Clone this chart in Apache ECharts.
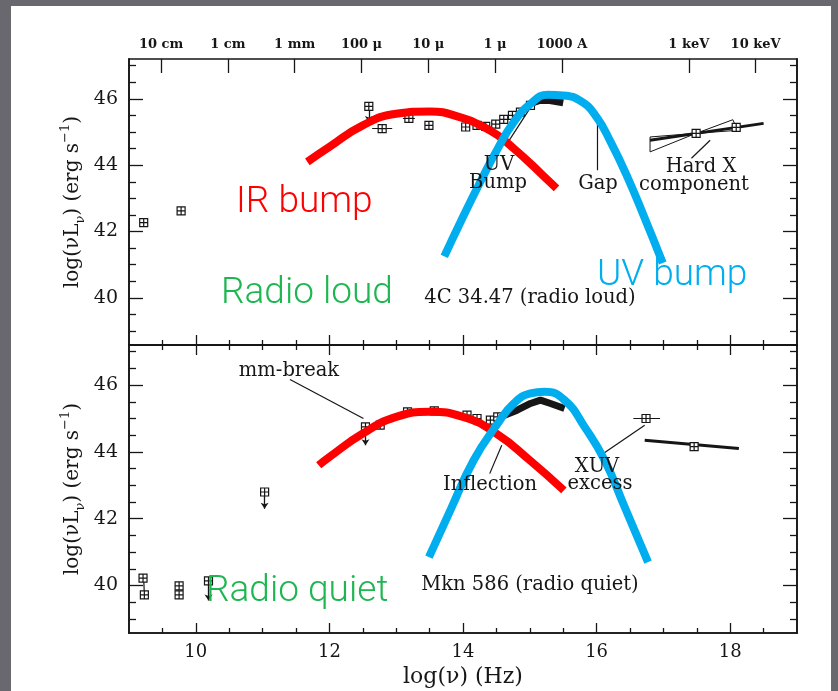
<!DOCTYPE html>
<html>
<head>
<meta charset="utf-8">
<title>SED radio loud / radio quiet</title>
<script src="https://cdn.jsdelivr.net/npm/echarts@6/dist/echarts.min.js"></script>
<style>
  html, body { margin: 0; padding: 0; background: #fff; }
  #chart { width: 838px; height: 691px; }
</style>
</head>
<body>
<div id="chart"></div>
<script>
// axis ticks
const xMajor = [10, 12, 14, 16, 18];
const xMinor = [9.5, 10.5, 11, 11.5, 12.5, 13, 13.5, 14.5, 15, 15.5, 16.5, 17, 17.5, 18.5];
const yMajor = [40, 42, 44, 46];
const yMinor = [39, 39.5, 40.5, 41, 41.5, 42.5, 43, 43.5, 44.5, 45, 45.5, 46.5, 47];
const waveTicks = [9.48, 10.48, 11.48, 12.48, 13.48, 14.48, 15.48, 17.38, 18.38];
const waveLabels = ['10 cm', '1 cm', '1 mm', '100 \u03bc', '10 \u03bc', '1 \u03bc', '1000 A', '1 keV', '10 keV'];

// 4C 34.47 (radio loud)
const loudX = [9.22, 9.78, 12.59, 12.79, 13.19, 13.49, 14.04, 14.21, 14.34, 14.49, 14.61, 14.74, 14.86, 15.01, 17.49, 18.09];
const loudY = [42.27, 42.62, 45.77, 45.10, 45.41, 45.20, 45.15, 45.20, 45.17, 45.24, 45.38, 45.50, 45.60, 45.80, 44.96, 45.14];
const loudBlobX = [15.0, 15.15, 15.3, 15.5];
const loudBlobY = [45.85, 45.95, 45.95, 45.88];
const loudHardX = [16.8, 18.5];
const loudHardY = [44.75, 45.26];
const loudBowX = [16.8, 16.8, 17.49, 18.04, 18.11, 17.49, 16.8];
const loudBowY = [44.85, 44.4, 44.96, 45.37, 45.05, 44.96, 44.85];
const loudArrows = [[[12.59, 45.72], [12.59, 45.3]]];
const loudBars = [[[12.64, 45.1], [12.94, 45.1]], [[13.1, 45.41], [13.28, 45.41]]];
const loudPointers = [
  [[14.66, 44.65], [15.03, 45.8]],   // UV bump
  [[16.01, 45.56], [16.01, 43.85]],  // gap
  [[17.42, 44.21], [17.70, 44.75]]   // hard X
];

// Mkn 586 (radio quiet)
const quietX = [9.21, 9.23, 9.75, 9.75, 10.19, 11.03, 12.54, 12.76, 13.17, 13.57, 14.06, 14.21, 14.41, 14.52, 16.74, 17.46];
const quietY = [40.22, 39.72, 39.99, 39.72, 40.14, 42.80, 44.75, 44.80, 45.20, 45.23, 45.10, 45.00, 44.95, 45.05, 45.00, 44.16];
const quietBlobX = [14.5, 14.81, 15.01, 15.16, 15.31, 15.52];
const quietBlobY = [45.0, 45.25, 45.45, 45.55, 45.45, 45.3];
const quietHardX = [16.72, 18.13];
const quietHardY = [44.35, 44.1];
const quietArrows = [[[10.19, 40.1], [10.19, 39.55]], [[11.03, 42.75], [11.03, 42.3]], [[12.54, 44.7], [12.54, 44.2]]];
const quietBars = [[[9.22, 40.22], [9.23, 39.72]], [[16.55, 45.0], [16.95, 45.0]]];
const quietPointers = [
  [[11.41, 46.17], [12.51, 45.0]],   // mm-break
  [[14.40, 43.35], [14.58, 44.2]],   // inflection
  [[16.10, 43.95], [16.72, 44.8]]    // XUV excess
];

// hand-drawn bumps
const irTopX = [11.67, 12.0, 12.5, 13.0, 13.5, 14.0, 14.26, 14.52, 14.76, 15.01, 15.27, 15.4];
const irTopY = [44.1, 44.55, 45.2, 45.55, 45.62, 45.42, 45.2, 44.9, 44.5, 44.05, 43.55, 43.3];
const uvTopX = [13.72, 13.99, 14.26, 14.52, 14.76, 15.01, 15.27, 15.5, 15.77, 16.0, 16.21, 16.46, 16.71, 16.99];
const uvTopY = [41.25, 42.4, 43.5, 44.5, 45.3, 45.85, 46.12, 46.1, 45.92, 45.45, 44.7, 43.65, 42.45, 41.05];
const irBotX = [11.84, 12.0, 12.5, 13.0, 13.5, 14.0, 14.5, 15.0, 15.51];
const irBotY = [43.6, 43.85, 44.55, 45.05, 45.2, 45.05, 44.55, 43.75, 42.85];
const uvBotX = [13.49, 13.81, 14.16, 14.52, 14.76, 15.01, 15.22, 15.52, 15.82, 16.12, 16.42, 16.77];
const uvBotY = [40.85, 42.25, 43.75, 44.85, 45.45, 45.75, 45.8, 45.55, 44.75, 43.75, 42.35, 40.7];

const zip = (xs, ys) => xs.map((x, i) => [x, ys[i]]);
const seg = a => a.map(c => ({coords: c}));

const INK = '#161616';
const SERIF = 'DejaVu Serif';
const yMin = 38.58, yMax = 47.2;
const BOX = 'path://M0 0H10V10H0ZM5 0V10M0 5H10';

var chart = echarts.init(document.getElementById('chart'), null, {renderer: 'canvas'});

function xAx(grid, pos, ticks, len, extra) {
  return Object.assign({
    type: 'value', gridIndex: grid, position: pos, min: 9, max: 19,
    axisLine: {show: true, onZero: false, lineStyle: {color: INK, width: 1.6}},
    axisTick: {show: true, inside: true, length: len, customValues: ticks, lineStyle: {color: INK, width: 1.3}},
    axisLabel: {show: false},
    splitLine: {show: false}
  }, extra || {});
}
function yAx(grid, pos, ticks, len, extra) {
  return Object.assign({
    type: 'value', gridIndex: grid, position: pos, min: yMin, max: yMax,
    axisLine: {show: true, onZero: false, lineStyle: {color: INK, width: 1.6}},
    axisTick: {show: true, inside: true, length: len, customValues: ticks, lineStyle: {color: INK, width: 1.3}},
    axisLabel: {show: false},
    splitLine: {show: false}
  }, extra || {});
}

const yName = {
  name: 'log(\u03bdL{s|\u03bd}) (erg s{p|\u22121})',
  nameLocation: 'middle', nameGap: 42, nameRotate: 90, nameMoveOverlap: false,
  nameTextStyle: {
    fontFamily: SERIF, fontSize: 20, color: INK, lineHeight: 28,
    rich: {
      s: {fontFamily: SERIF, fontSize: 13, color: INK, verticalAlign: 'bottom', lineHeight: 14},
      p: {fontFamily: SERIF, fontSize: 13, color: INK, verticalAlign: 'top', lineHeight: 14}
    }
  }
};
const yLab = {show: true, customValues: yMajor, margin: 11, fontFamily: SERIF, fontSize: 19, color: INK};

const xAxes = [
  xAx(0, 'bottom', xMajor, 10),
  xAx(0, 'bottom', xMinor, 5),
  xAx(0, 'top', waveTicks, 14, {
    axisLabel: {show: true, customValues: waveTicks, margin: 8, fontFamily: SERIF, fontSize: 13, fontWeight: 'bold', color: INK,
      formatter: v => { const i = waveTicks.findIndex(t => Math.abs(t - v) < 0.005); return i < 0 ? '' : waveLabels[i]; }}
  }),
  xAx(1, 'bottom', xMajor, 10, {
    axisLabel: {show: true, customValues: xMajor, margin: 10, fontFamily: SERIF, fontSize: 18, color: INK},
    name: 'log(\u03bd) (Hz)', nameLocation: 'middle', nameGap: 33, nameMoveOverlap: false,
    nameTextStyle: {fontFamily: SERIF, fontSize: 22, color: INK}
  }),
  xAx(1, 'bottom', xMinor, 5),
  xAx(1, 'top', xMajor, 10),
  xAx(1, 'top', xMinor, 5)
];

const yAxes = [
  yAx(0, 'left', yMajor, 14, Object.assign({axisLabel: yLab}, yName)),
  yAx(0, 'left', yMinor, 7),
  yAx(0, 'right', yMajor, 14),
  yAx(0, 'right', yMinor, 7),
  yAx(1, 'left', yMajor, 14, Object.assign({axisLabel: yLab}, yName)),
  yAx(1, 'left', yMinor, 7),
  yAx(1, 'right', yMajor, 14),
  yAx(1, 'right', yMinor, 7)
];

function panelSeries(xi, yi, d) {
  const plain = (data, w) => ({
    type: 'line', xAxisIndex: xi, yAxisIndex: yi, data: data, symbol: 'none', z: 3,
    lineStyle: {color: INK, width: w}, silent: true
  });
  const out = [
    plain(zip(d.blobX, d.blobY), 7),
    plain(zip(d.hardX, d.hardY), 3),
    {
      type: 'lines', coordinateSystem: 'cartesian2d', xAxisIndex: xi, yAxisIndex: yi, z: 3,
      data: seg(d.arrows), symbol: ['none', 'arrow'], symbolSize: 6,
      lineStyle: {color: INK, width: 1.3, opacity: 1}
    },
    {
      type: 'lines', coordinateSystem: 'cartesian2d', xAxisIndex: xi, yAxisIndex: yi, z: 3,
      data: seg(d.bars.concat(d.pointers)), symbol: 'none',
      lineStyle: {color: INK, width: 1.2, opacity: 1}
    },
    {
      type: 'scatter', xAxisIndex: xi, yAxisIndex: yi, data: zip(d.px, d.py), z: 4,
      symbol: BOX, symbolSize: 8,
      itemStyle: {color: '#fff', borderColor: INK, borderWidth: 1.2, opacity: 1}
    },
    {
      type: 'line', xAxisIndex: xi, yAxisIndex: yi, data: zip(d.irX, d.irY), smooth: true, symbol: 'none', z: 6,
      lineStyle: {color: '#ff0000', width: 8, cap: 'butt'}
    },
    {
      type: 'line', xAxisIndex: xi, yAxisIndex: yi, data: zip(d.uvX, d.uvY), smooth: true, symbol: 'none', z: 6,
      lineStyle: {color: '#00adef', width: 8, cap: 'butt'}
    }
  ];
  if (d.bowX) out.push(plain(zip(d.bowX, d.bowY), 1));
  return out;
}

const series = [].concat(
  panelSeries(0, 0, {
    px: loudX, py: loudY, blobX: loudBlobX, blobY: loudBlobY, hardX: loudHardX, hardY: loudHardY,
    arrows: loudArrows, bars: loudBars, pointers: loudPointers,
    irX: irTopX, irY: irTopY, uvX: uvTopX, uvY: uvTopY, bowX: loudBowX, bowY: loudBowY
  }),
  panelSeries(3, 4, {
    px: quietX, py: quietY, blobX: quietBlobX, blobY: quietBlobY, hardX: quietHardX, hardY: quietHardY,
    arrows: quietArrows, bars: quietBars, pointers: quietPointers,
    irX: irBotX, irY: irBotY, uvX: uvBotX, uvY: uvBotY
  })
);

function note(text, x, y, extra) {
  return {
    type: 'text', x: x, y: y, z: 10,
    style: Object.assign({text: text, fontFamily: SERIF, fontSize: 19.5, fill: INK,
      textAlign: 'center', textVerticalAlign: 'middle'}, extra || {})
  };
}
function tag(text, x, y, color) {
  return {
    type: 'text', x: x, y: y, z: 10,
    style: {text: text, fontFamily: 'Roboto', fontWeight: 300, fontSize: 37, fill: color,
      textAlign: 'left', textVerticalAlign: 'middle'}
  };
}

const GRAY = '#69686e';
const graphic = [
  {type: 'rect', shape: {x: 0, y: 0, width: 838, height: 6}, style: {fill: GRAY}, z: 20},
  {type: 'rect', shape: {x: 0, y: 0, width: 11, height: 691}, style: {fill: GRAY}, z: 20},
  {type: 'rect', shape: {x: 831, y: 0, width: 7, height: 691}, style: {fill: GRAY}, z: 20},
  note('UV', 499, 165),
  note('Bump', 498, 183),
  note('Gap', 598, 184),
  note('Hard X', 701, 167),
  note('component', 694, 185),
  note('4C 34.47 (radio loud)', 530, 298),
  note('mm-break', 289, 371),
  note('Inflection', 490, 485),
  note('XUV', 597, 467),
  note('excess', 600, 484),
  note('Mkn 586 (radio quiet)', 530, 585),
  tag('IR bump', 236, 203, '#ff0000'),
  tag('Radio loud', 221, 294, '#1db650'),
  tag('UV bump', 597, 276, '#00adef'),
  tag('Radio quiet', 206, 592, '#1db650')
];

chart.setOption({
  animation: false,
  backgroundColor: '#fff',
  grid: [
    {left: 129, top: 59, width: 668, height: 286, outerBoundsMode: 'none'},
    {left: 129, top: 345, width: 668, height: 288, outerBoundsMode: 'none'}
  ],
  xAxis: xAxes,
  yAxis: yAxes,
  series: series,
  graphic: graphic
});
</script>
</body>
</html>
